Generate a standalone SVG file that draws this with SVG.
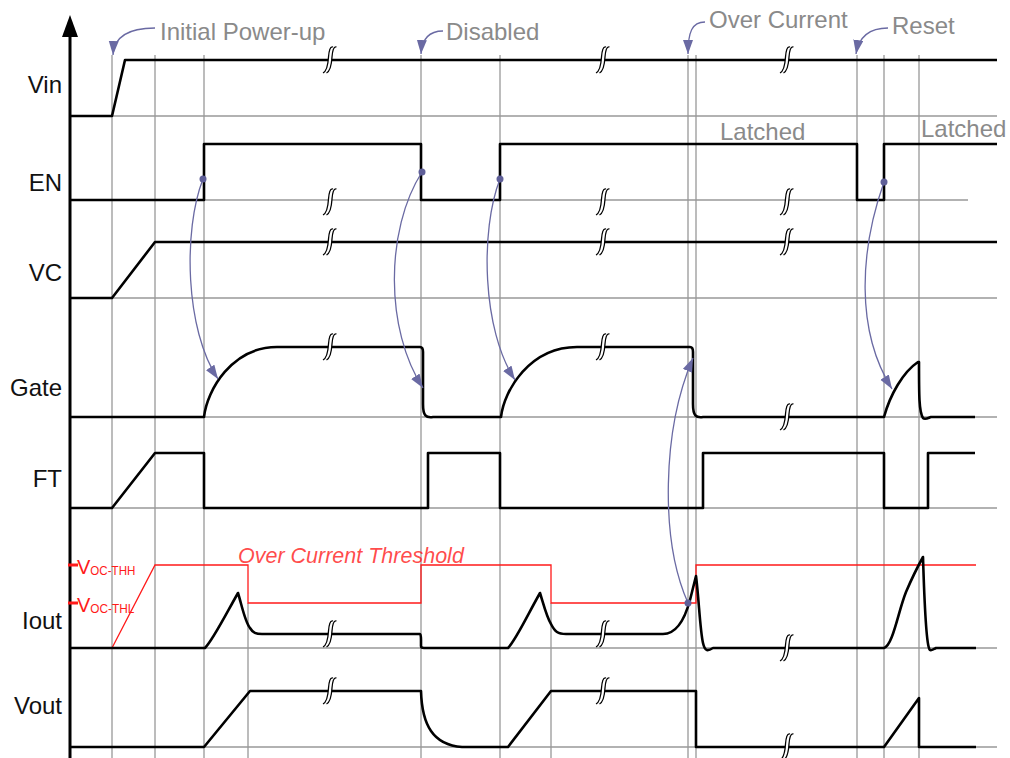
<svg xmlns="http://www.w3.org/2000/svg" xmlns:xlink="http://www.w3.org/1999/xlink" width="1010" height="758" viewBox="0 0 1010 758">
<style>
.grid{stroke:#999;stroke-width:1.3;fill:none}
.sig{stroke:#000;stroke-width:2.6;fill:none;stroke-linejoin:round}
.thr{stroke:#ff1a1a;stroke-width:1.3;fill:none}
.lbl{font-family:"Liberation Sans",Arial,sans-serif;font-size:24px;fill:#111;text-anchor:end}
.ann{font-family:"Liberation Sans",Arial,sans-serif;font-size:24px;fill:#8a8a8a}
.red{font-family:"Liberation Sans",Arial,sans-serif;fill:#ff1a1a}
.conn{stroke:#6a6aa3;stroke-width:1.3;fill:none}
.dot{fill:#5f5f98}
.brkf{fill:#fff;stroke:none}
.brks{fill:none;stroke:#000;stroke-width:1.3}
</style>
<defs>
<marker id="ah" markerUnits="userSpaceOnUse" markerWidth="16" markerHeight="12" refX="14" refY="5" orient="auto">
<path d="M0,0 L14,5 L0,10 Z" fill="#6a6aa3"/>
</marker>
<g id="brk">
<path class="brkf" d="M3,-13 C0,-14 -1,-9 -1.5,-3 C-2,5 -3,11 -7,13 L-3.5,13 C0.5,11 1.5,5 2,-3 C2.5,-9 3.5,-14 6.5,-13 Z"/>
<path class="brks" d="M3,-13 C0,-14 -1,-9 -1.5,-3 C-2,5 -3,11 -7,13"/>
<path class="brks" d="M6.5,-13 C3.5,-14 2.5,-9 2,-3 C1.5,5 0.5,11 -3.5,13"/>
</g>
</defs>

<g id="grid">
<path class="grid" d="M70,116 H997 M70,200 H968 M70,298 H997 M70,417 H997 M70,508 H997 M70,648 H997 M70,747 H997"/>
<path class="grid" d="M112,55 V758 M155,55 V758 M204,55 V758 M421,55 V758 M500,55 V758 M688,55 V758 M696,55 V758 M857,55 V758 M884,55 V758 M919,55 V758 M248,603 V758 M551,603 V758"/>
</g>

<g id="axis">
<line x1="70" y1="30" x2="70" y2="758" stroke="#000" stroke-width="3"/>
<path d="M62,37 L70,15 L78,37 Z" fill="#000"/>
</g>

<g id="labels">
<text class="lbl" x="62" y="93">Vin</text>
<text class="lbl" x="62" y="191">EN</text>
<text class="lbl" x="62" y="281">VC</text>
<text class="lbl" x="62" y="396">Gate</text>
<text class="lbl" x="62" y="487">FT</text>
<text class="lbl" x="62" y="629">Iout</text>
<text class="lbl" x="62" y="714">Vout</text>
</g>

<g id="vin">
<path class="sig" d="M70,116 L112,116 L125,60 L997,60"/>
</g>
<g id="en">
<path class="sig" d="M70,200 L204,200 L204,144 L421,144 L421,200 L500,200 L500,144 L857,144 L857,200 L884,200 L884,144 L997,144"/>
<text class="ann" x="720" y="140">Latched</text>
<text class="ann" x="921" y="137">Latched</text>
</g>
<g id="vc">
<path class="sig" d="M70,298 L112,298 L155,242 L997,242"/>
</g>
<g id="gate">
<path class="sig" d="M70,417 L204,417 C207,390 232,347 277,347 L420,347 Q423,347 423,352 L423,404 C423,416 426,418 433,417 L501,417 C504,390 530,347 577,347 L690,347 Q693,347 693,352 L693,404 C693,416 696,418 703,417 L884,417 C890,395 903,372 918,362 L919,362 C919,395 919,412 923,418 C925,420 928,418 931,417 L975,417"/>
</g>
<g id="ft">
<path class="sig" d="M70,508 L112,508 L155,453 L204,453 L204,508 L428,508 L428,453 L500,453 L500,508 L703,508 L703,453 L884,453 L884,508 L928,508 L928,453 L975,453"/>
</g>
<g id="iout">
<path class="thr" d="M112,648 L155,565 L248,565 L248,603 L421,603 L421,565 L551,565 L551,603 L696,603 L696,565 L976,565"/>
<path d="M68,565 H78 M68,603 H78" stroke="#ff1a1a" stroke-width="3"/>
<text class="red" x="77" y="574" font-size="20">V<tspan font-size="13" dy="1" textLength="45" lengthAdjust="spacingAndGlyphs">OC-THH</tspan></text>
<text class="red" x="77" y="612" font-size="20">V<tspan font-size="13" dy="1" textLength="44" lengthAdjust="spacingAndGlyphs">OC-THL</tspan></text>
<text class="red" x="238" y="563" font-size="21.5" font-style="italic" fill-opacity="0.8">Over Current Threshold</text>
<path class="sig" d="M70,648 L205,648 C213,640 226,614 238,593 C242,606 245,622 250,628 C253,633 256,634 262,634 L420,634 Q421,634 421,640 L421,646 Q421,648 424,648 L508,648 C516,640 528,614 540,593 C544,606 547,618 551,624 C555,632 558,634 566,634 L663,634 C675,634 684,622 690,600 L696,576 C699,600 700,630 703,643 C705,652 708,651 713,648 L884,648 C893,645 898,612 906,592 C912,578 918,566 923,557 C924,590 926,640 929,648 C930,652 932,650 936,648 L976,648"/>
</g>
<g id="vout">
<path class="sig" d="M70,747 L204,747 L250,691 L421,691 C422,725 433,745 462,747 L508,747 L551,691 L696,691 L696,747 L884,747 L919,698 L919,747 L976,747"/>
</g>

<g id="breaks">
<use xlink:href="#brk" x="330" y="60"/>
<use xlink:href="#brk" x="330" y="202"/>
<use xlink:href="#brk" x="330" y="242"/>
<use xlink:href="#brk" x="330" y="347"/>
<use xlink:href="#brk" x="330" y="634"/>
<use xlink:href="#brk" x="330" y="691"/>
<use xlink:href="#brk" x="603" y="60"/>
<use xlink:href="#brk" x="603" y="202"/>
<use xlink:href="#brk" x="603" y="242"/>
<use xlink:href="#brk" x="603" y="347"/>
<use xlink:href="#brk" x="603" y="634"/>
<use xlink:href="#brk" x="603" y="691"/>
<use xlink:href="#brk" x="787" y="60"/>
<use xlink:href="#brk" x="787" y="202"/>
<use xlink:href="#brk" x="787" y="242"/>
<use xlink:href="#brk" x="787" y="417"/>
<use xlink:href="#brk" x="787" y="648"/>
<use xlink:href="#brk" x="787" y="747"/>
</g>

<g id="events">
<text class="ann" x="160" y="40">Initial Power-up</text>
<text class="ann" x="446" y="40">Disabled</text>
<text class="ann" x="709" y="28">Over Current</text>
<text class="ann" x="892" y="34">Reset</text>
</g>

<g id="connectors">
<path class="conn" marker-end="url(#ah)" d="M155,28 C130,28 114,36 113,55"/>
<path class="conn" marker-end="url(#ah)" d="M443,31 C430,31 422,38 421,54"/>
<path class="conn" marker-end="url(#ah)" d="M705,22 C692,22 688,32 688,54"/>
<path class="conn" marker-end="url(#ah)" d="M888,28 C870,28 859,36 856,54"/>
<path class="conn" marker-end="url(#ah)" d="M203,179 C183,230 185,330 218,379"/>
<path class="conn" marker-end="url(#ah)" d="M422,172 C385,230 385,330 423,388"/>
<path class="conn" marker-end="url(#ah)" d="M500,179 C480,230 482,330 515,380"/>
<path class="conn" marker-end="url(#ah)" d="M884,182 C860,250 855,330 892,389"/>
<path class="conn" marker-end="url(#ah)" d="M688,603 C660,540 662,430 693,358"/>
<circle class="dot" cx="203" cy="179" r="3.5"/>
<circle class="dot" cx="422" cy="172" r="3.5"/>
<circle class="dot" cx="500" cy="179" r="3.5"/>
<circle class="dot" cx="884" cy="182" r="3.5"/>
<circle class="dot" cx="688" cy="603" r="3.5"/>
</g>
</svg>
